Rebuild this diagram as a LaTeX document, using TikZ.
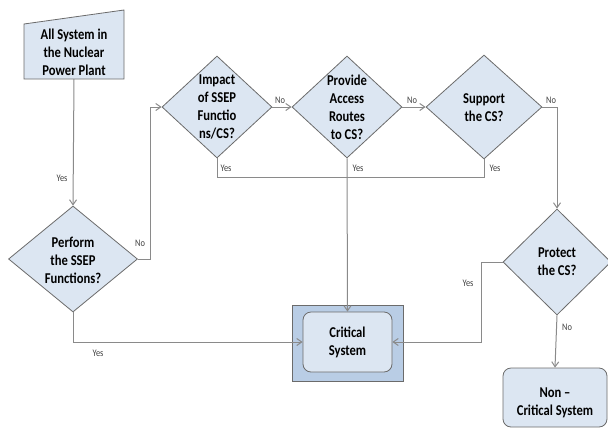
\documentclass[tikz,border=0pt]{standalone}
\usepackage{fontspec}
\setmainfont{Carlito}[FakeStretch=0.84]
\usetikzlibrary{shapes.geometric,arrows.meta}
\definecolor{boxfill}{HTML}{DCE6F2}
\definecolor{outerfill}{HTML}{B9CDE5}
\definecolor{edgecol}{HTML}{6B6B6B}
\definecolor{conncol}{HTML}{8A8A8A}
\definecolor{lblcol}{HTML}{404040}
\begin{document}
\begin{tikzpicture}[x=1pt,y=-1pt,
  dia/.style={diamond, draw=edgecol, fill=boxfill, inner sep=0pt, line width=0.8pt},
  txt/.style={align=center, font=\fontsize{15}{18}\selectfont\bfseries, inner sep=0pt},
  lab/.style={font=\fontsize{10}{12}\selectfont, text=lblcol, inner sep=0pt},
  conn/.style={draw=conncol, line width=1pt},
  arr/.style={conn, -{Straight Barb[length=5pt,width=7pt]}},
  rbox/.style={draw=edgecol, fill=boxfill, rounded corners=8pt, line width=0.8pt, inner sep=0pt}]
\useasboundingbox (0,0) rectangle (608,429);
% start (manual input shape)
\draw[draw=edgecol, fill=boxfill, line width=0.8pt] (24,24) -- (124,10) -- (124,79) -- (24,79) -- cycle;
\node[txt] (start) at (74,52) {All System in\\the Nuclear\\Power Plant};
\coordinate (startB) at (74,79);
% diamonds
\node[dia, minimum width=129, minimum height=106] (perf) at (73,259) {};
\node[txt] (perfT) at (73,260) {Perform\\the SSEP\\Functions?};
\node[dia, minimum width=110, minimum height=102] (imp) at (217,107) {};
\node[txt] (impT) at (217,107) {Impact\\of SSEP\\Functio\\ns/CS?};
\node[dia, minimum width=110, minimum height=102] (prov) at (347,107) {};
\node[txt] (provT) at (347,107) {Provide\\Access\\Routes\\to CS?};
\node[dia, minimum width=116, minimum height=104] (sup) at (484,107) {};
\node[txt] (supT) at (484,107.5) {Support\\the CS?};
\node[dia, minimum width=108, minimum height=106] (prot) at (557,262) {};
\node[txt] (protT) at (557,261.5) {Protect\\the CS?};
% critical system
\node[draw=edgecol, fill=outerfill, line width=0.8pt, minimum width=111, minimum height=76, inner sep=0pt] (crit) at (347.5,343) {};
\node[rbox, minimum width=89, minimum height=60] (critIn) at (347.5,342) {};
\node[txt] (critT) at (347.5,342.5) {Critical\\System};
% non-critical
\node[rbox, minimum width=104, minimum height=59] (non) at (555,397.5) {};
\node[txt] (nonT) at (555,403) {Non –\\Critical System};
% connectors
\draw[arr] (startB) -- (perf.north);
\draw[arr] (perf.east) -- ++(13,0) |- (imp.west);
\draw[arr] (imp.east) -- (prov.west);
\draw[arr] (prov.east) -- (sup.west);
\draw[arr] (sup.east) -| (prot.north);
\draw[conn] (imp.south) -- ++(0,19) -| (sup.south);
\draw[arr] (prov.south) -- (critIn.north);
\draw[arr] (perf.south) |- (critIn.west);
\draw[arr] (prot.west) -- ++(-21,0) |- (critIn.east);
\draw[arr] (prot.south) -- (non.north);
% labels
\node[lab] at (62,178) {Yes};
\node[lab] at (140,243) {No};
\node[lab] at (280,100) {No};
\node[lab] at (412,100) {No};
\node[lab] at (551,100) {No};
\node[lab] at (226,168) {Yes};
\node[lab] at (358,168) {Yes};
\node[lab] at (495,168) {Yes};
\node[lab] at (98,353) {Yes};
\node[lab] at (468,283) {Yes};
\node[lab] at (567,327) {No};
\end{tikzpicture}
\end{document}
